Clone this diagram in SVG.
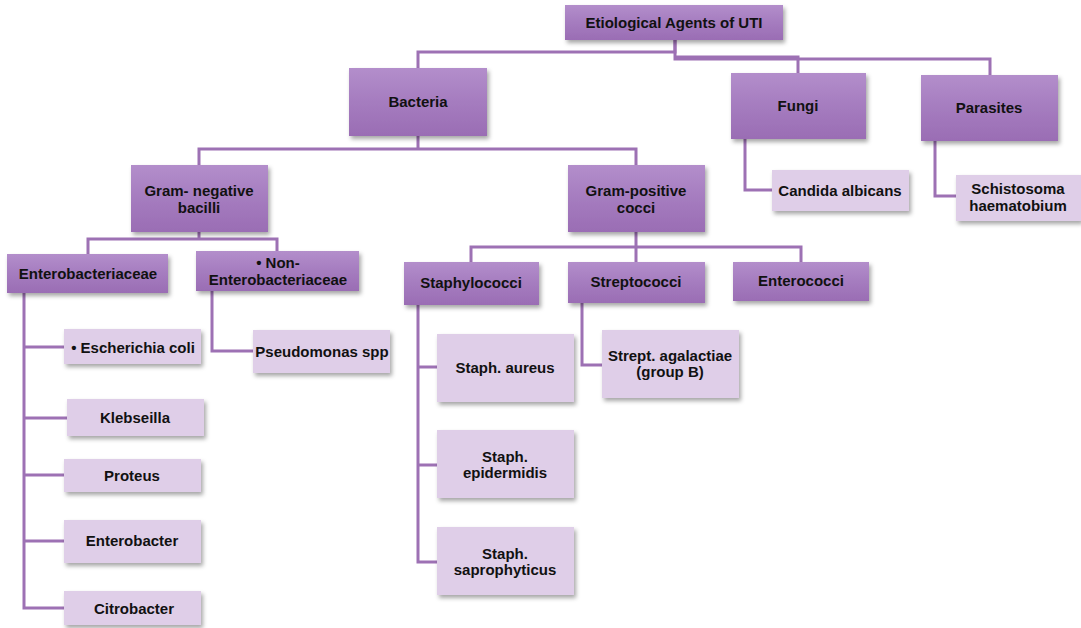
<svg xmlns="http://www.w3.org/2000/svg" width="1081" height="628" viewBox="0 0 1081 628">
<defs>
<linearGradient id="g" x1="0" y1="0" x2="0" y2="1">
<stop offset="0" stop-color="#b38ecb"/>
<stop offset="0.5" stop-color="#a57cbf"/>
<stop offset="1" stop-color="#9a6db4"/>
</linearGradient>
<filter id="sh" x="-10%" y="-10%" width="130%" height="140%">
<feDropShadow dx="2" dy="3" stdDeviation="2" flood-color="#000" flood-opacity="0.35"/>
</filter>
</defs>
<style>
.d{fill:url(#g);filter:url(#sh)}
.l{fill:#dfcee8;filter:url(#sh)}
.t{font-family:"Liberation Sans",Arial,sans-serif;font-weight:bold;font-size:15px;fill:#111;text-anchor:middle}
.c{fill:none;stroke:#9d71b4;stroke-width:3}
</style>
<g id="connectors">
<path class="c" d="M675 40V57H798V73M675 57V59H990V75"/>
<path class="c" d="M675 40V52H418V68"/>
<path class="c" d="M418 136V149H199V165M418 149H636V165"/>
<path class="c" d="M199 232V239H88V254M199 239H277V251"/>
<path class="c" d="M24 293V608H64M24 347H64M24 418H67M24 475H64M24 541H64"/>
<path class="c" d="M212 291V351H253"/>
<path class="c" d="M636 232V247H471V262M636 247V262M636 247H801V262"/>
<path class="c" d="M418 305V562H437M418 367H437M418 465H437"/>
<path class="c" d="M582 303V365H602"/>
<path class="c" d="M745 139V190H772"/>
<path class="c" d="M935 141V196H956"/>
</g>
<g id="root"><rect class="d" x="565" y="5" width="218" height="35"/><text class="t" x="674" y="28">Etiological Agents of UTI</text></g>
<g id="bacteria"><rect class="d" x="349" y="68" width="138" height="68"/><text class="t" x="418" y="107">Bacteria</text></g>
<g id="fungi"><rect class="d" x="731" y="73" width="135" height="66"/><text class="t" x="798" y="111">Fungi</text></g>
<g id="parasites"><rect class="d" x="921" y="75" width="137" height="66"/><text class="t" x="989" y="113">Parasites</text></g>
<g id="gramneg"><rect class="d" x="131" y="165" width="137" height="67"/><text class="t" x="199" y="196">Gram- negative</text><text class="t" x="199" y="213">bacilli</text></g>
<g id="grampos"><rect class="d" x="568" y="165" width="137" height="67"/><text class="t" x="636" y="196">Gram-positive</text><text class="t" x="636" y="213">cocci</text></g>
<g id="entero"><rect class="d" x="7" y="254" width="161" height="39"/><text class="t" x="88" y="279">Enterobacteriaceae</text></g>
<g id="nonentero"><rect class="d" x="196" y="251" width="163" height="40"/><text class="t" x="278" y="268">• Non-</text><text class="t" x="278" y="285">Enterobacteriaceae</text></g>
<g id="ecoli"><rect class="l" x="64" y="329" width="137" height="35"/><text class="t" x="133" y="353">• Escherichia coli</text></g>
<g id="klebseilla"><rect class="l" x="67" y="399" width="137" height="37"/><text class="t" x="135" y="423">Klebseilla</text></g>
<g id="proteus"><rect class="l" x="64" y="459" width="137" height="33"/><text class="t" x="132" y="481">Proteus</text></g>
<g id="enterobacter"><rect class="l" x="64" y="520" width="137" height="43"/><text class="t" x="132" y="546">Enterobacter</text></g>
<g id="citrobacter"><rect class="l" x="64" y="591" width="137" height="34"/><text class="t" x="134" y="614">Citrobacter</text></g>
<g id="pseudomonas"><rect class="l" x="253" y="330" width="137" height="43"/><text class="t" x="322" y="357">Pseudomonas spp</text></g>
<g id="staphylococci"><rect class="d" x="404" y="262" width="135" height="43"/><text class="t" x="471" y="288">Staphylococci</text></g>
<g id="streptococci"><rect class="d" x="568" y="262" width="137" height="41"/><text class="t" x="636" y="287">Streptococci</text></g>
<g id="enterococci"><rect class="d" x="733" y="262" width="136" height="39"/><text class="t" x="801" y="286">Enterococci</text></g>
<g id="saureus"><rect class="l" x="437" y="334" width="137" height="68"/><text class="t" x="505" y="373">Staph. aureus</text></g>
<g id="sepi"><rect class="l" x="437" y="430" width="137" height="68"/><text class="t" x="505" y="462">Staph.</text><text class="t" x="505" y="478">epidermidis</text></g>
<g id="ssapro"><rect class="l" x="437" y="527" width="137" height="68"/><text class="t" x="505" y="559">Staph.</text><text class="t" x="505" y="575">saprophyticus</text></g>
<g id="agalactiae"><rect class="l" x="602" y="330" width="137" height="68"/><text class="t" x="670" y="361">Strept. agalactiae</text><text class="t" x="670" y="377">(group B)</text></g>
<g id="candida"><rect class="l" x="772" y="170" width="137" height="41"/><text class="t" x="840" y="196">Candida albicans</text></g>
<g id="schisto"><rect class="l" x="956" y="175" width="125" height="46"/><text class="t" x="1018" y="194">Schistosoma</text><text class="t" x="1018" y="211">haematobium</text></g>
</svg>
